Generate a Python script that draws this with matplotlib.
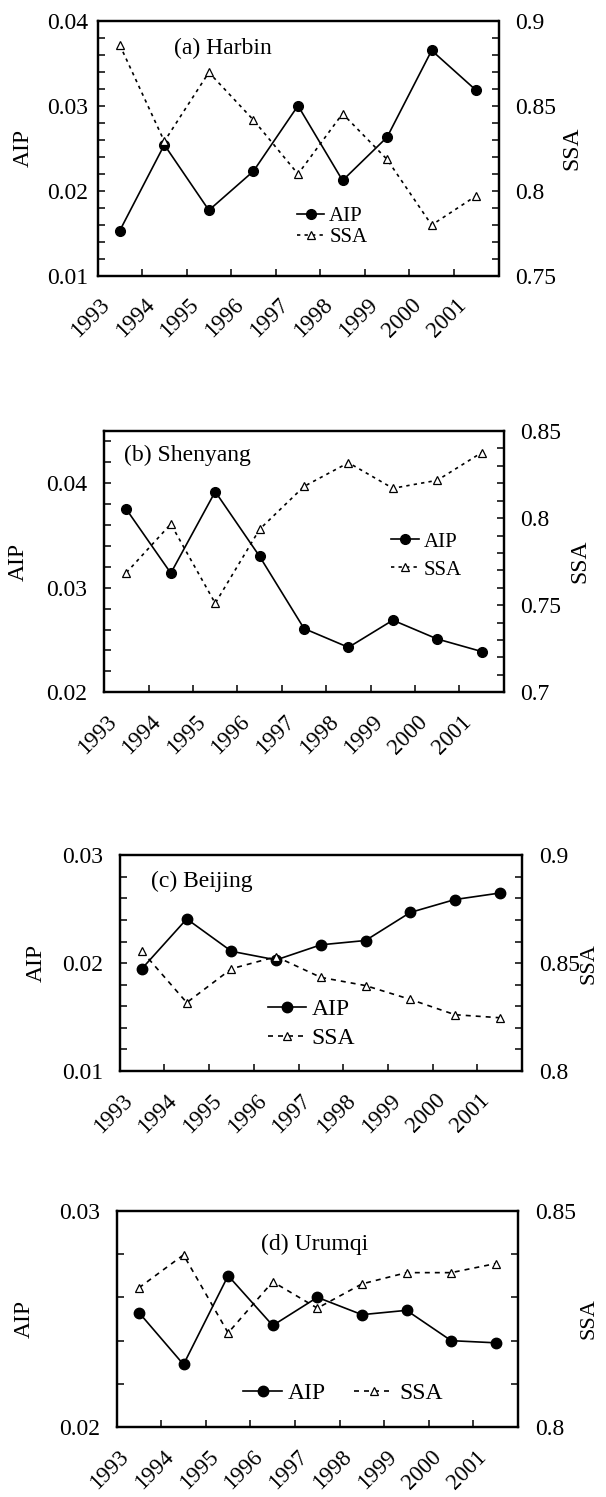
import matplotlib
matplotlib.use("Agg")
import matplotlib.pyplot as plt
import matplotlib.transforms as mtransforms
import numpy as np
from matplotlib.ticker import FixedLocator

plt.rcParams['font.family'] = ['Liberation Serif', 'DejaVu Serif']

years = ['1993', '1994', '1995', '1996', '1997', '1998', '1999', '2000', '2001']

# values
harbin_aip = [0.0153, 0.0254, 0.0177, 0.0223, 0.0300, 0.0212, 0.0263, 0.0365, 0.0318]
harbin_ssa = [0.8857, 0.829, 0.8696, 0.8416, 0.8098, 0.8453, 0.8184, 0.7798, 0.797]

shenyang_aip = [0.0375, 0.0314, 0.0392, 0.0330, 0.0261, 0.0243, 0.0269, 0.0251, 0.0239]
shenyang_ssa = [0.7687, 0.7966, 0.7511, 0.7936, 0.8182, 0.8318, 0.8171, 0.8217, 0.8376]

beijing_aip = [0.0195, 0.0241, 0.0211, 0.0203, 0.0217, 0.0221, 0.0247, 0.0259, 0.0265]
beijing_ssa = [0.8555, 0.8317, 0.8474, 0.853, 0.8434, 0.8396, 0.8332, 0.8261, 0.8247]

urumqi_aip = [0.0253, 0.0229, 0.0270, 0.0247, 0.0260, 0.0252, 0.0254, 0.0240, 0.0239]
urumqi_ssa = [0.8322, 0.8398, 0.8218, 0.8336, 0.8275, 0.8331, 0.8357, 0.8357, 0.8378]

W, H = 606, 1497
fig = plt.figure(figsize=(W / 100, H / 100), dpi=100)


def px_rect(x0, y0, x1, y1):
    return [x0 / W, 1 - y1 / H, (x1 - x0) / W, (y1 - y0) / H]


def fmt(v):
    return '{:g}'.format(v)


def draw_panel(rect, title, aip, ssa, aip_lim, aip_major, ssa_lim, ssa_major,
               title_xy, leg_xy, leg_ncol, leg_size, leg_hl, leg_space,
               lab_x, left_pad, msize, dash, ssa_size=17):
    ax = fig.add_axes(px_rect(*rect))
    ax2 = ax.twinx()
    x = np.arange(len(years))

    l1, = ax.plot(x, aip, '-', color='black', lw=1.2, marker='o', ms=msize,
                  mfc='black', mec='black', label='AIP')
    l2, = ax2.plot(x, ssa, color='black', lw=1.2, linestyle=dash, marker='^',
                   ms=msize - 1.3, mfc='white', mec='black', mew=0.9, label='SSA')

    ax.set_xlim(-0.5, len(years) - 0.5)
    ax.set_ylim(*aip_lim)
    ax2.set_ylim(*ssa_lim)

    # y ticks: labelled majors, unlabelled minors every 0.002 / 0.01
    ax.yaxis.set_major_locator(FixedLocator(aip_major))
    ax.set_yticklabels([fmt(v) for v in aip_major])
    ax.yaxis.set_minor_locator(FixedLocator(np.arange(aip_lim[0], aip_lim[1] + 1e-9, 0.002)))
    ax2.yaxis.set_major_locator(FixedLocator(ssa_major))
    ax2.set_yticklabels([fmt(v) for v in ssa_major])
    ax2.yaxis.set_minor_locator(FixedLocator(np.arange(ssa_lim[0], ssa_lim[1] + 1e-9, 0.01)))

    ax.tick_params(axis='y', which='both', direction='in', length=5, width=1.1,
                   labelsize=17, pad=left_pad)
    ax2.tick_params(axis='y', which='both', direction='in', length=5, width=1.1,
                    labelsize=17, pad=12)

    # x: labels at centres, tick marks between years
    ax.set_xticks(x)
    ax.set_xticklabels(years, rotation=45, ha='right', va='center',
                       rotation_mode='anchor', fontsize=16.5)
    ax.set_xticks(x[:-1] + 0.5, minor=True)
    ax.tick_params(axis='x', which='major', length=0, pad=19)
    ax.tick_params(axis='x', which='minor', direction='in', length=5, width=1.1)
    shift = mtransforms.ScaledTranslation(-13 / 100, 0, fig.dpi_scale_trans)
    for lab in ax.get_xticklabels():
        lab.set_transform(lab.get_transform() + shift)

    for a in (ax, ax2):
        for s in a.spines.values():
            s.set_linewidth(1.6)

    ax.set_ylabel('AIP', fontsize=17)
    ax2.set_ylabel('SSA', fontsize=ssa_size, rotation=90)
    ax.yaxis.set_label_coords(lab_x[0], 0.5)
    ax2.yaxis.set_label_coords(lab_x[1], 0.5)

    ax.text(title_xy[0], title_xy[1], title, transform=ax.transAxes,
            fontsize=17, ha='left', va='center')

    ax2.legend([l1, l2], ['AIP', 'SSA'], loc='center left', bbox_to_anchor=leg_xy,
               ncol=leg_ncol, frameon=False, fontsize=leg_size, borderpad=0,
               borderaxespad=0, handlelength=leg_hl, handletextpad=0.25,
               labelspacing=leg_space, columnspacing=1.2)
    return ax


draw_panel((97.5, 20.7, 498.5, 275.7), '(a) Harbin', harbin_aip, harbin_ssa,
           (0.01, 0.04), [0.01, 0.02, 0.03, 0.04], (0.75, 0.9), [0.75, 0.8, 0.85, 0.9],
           (0.192, 0.892), (0.4975, 0.191), 1, 15, 1.3, 0.05,
           (-0.158, 1.158), 7, 7, (0, (2, 2.5)))

draw_panel((104.2, 431, 503.9, 692.3), '(b) Shenyang', shenyang_aip, shenyang_ssa,
           (0.02, 0.045), [0.02, 0.03, 0.04], (0.7, 0.85), [0.7, 0.75, 0.8, 0.85],
           (0.0485, 0.905), (0.717, 0.522), 1, 15, 1.35, 0.4,
           (-0.188, 1.163), 12, 7, (0, (2, 2.5)))

draw_panel((119.7, 855.3, 522, 1071), '(c) Beijing', beijing_aip, beijing_ssa,
           (0.01, 0.03), [0.01, 0.02, 0.03], (0.8, 0.9), [0.8, 0.85, 0.9],
           (0.077, 0.878), (0.369, 0.218), 1, 17, 1.6, 0.3,
           (-0.181, 1.144), 12, 7.5, (0, (3, 3)), ssa_size=16)

draw_panel((116.6, 1210.7, 518.1, 1427.3), '(d) Urumqi', urumqi_aip, urumqi_ssa,
           (0.02, 0.03), [0.02, 0.03], (0.8, 0.85), [0.8, 0.85],
           (0.359, 0.846), (0.315, 0.158), 2, 17, 1.65, 0.3,
           (-0.204, 1.154), 12, 7.5, (0, (3, 3)), ssa_size=16)

fig.savefig('out.png', dpi=100)
